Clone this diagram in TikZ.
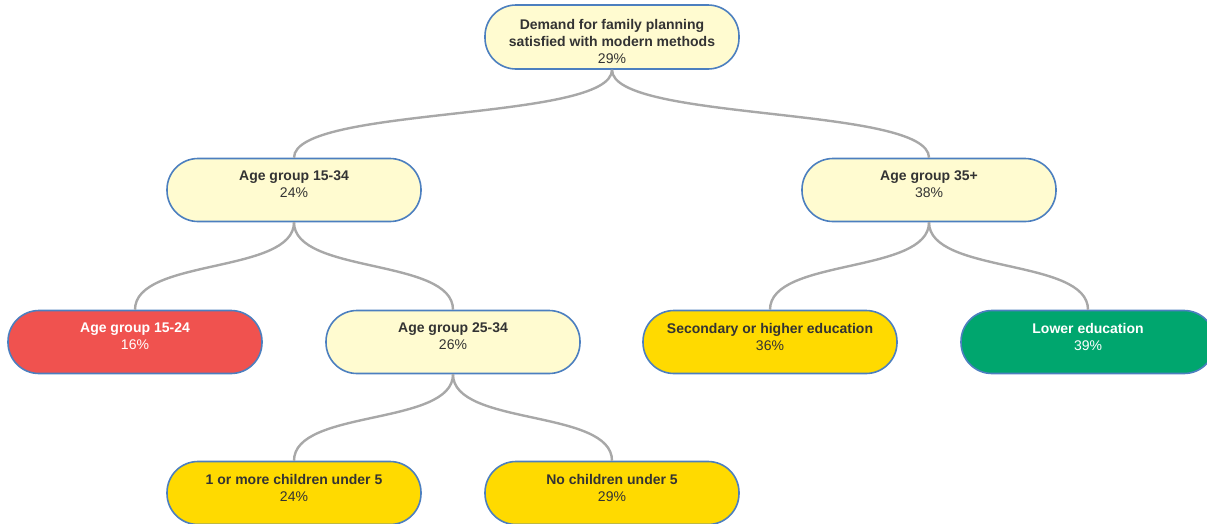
\documentclass[tikz,border=0pt]{standalone}
\usepackage{fontspec}
\setmainfont{Liberation Sans}
\usepackage{tikz}

\definecolor{rim}{HTML}{4C7FBF}
\definecolor{pale}{HTML}{FFFBD0}
\definecolor{low}{HTML}{F0524F}
\definecolor{high}{HTML}{00A66E}
\definecolor{mid}{HTML}{FFDA00}
\definecolor{wire}{HTML}{A8A8A8}
\definecolor{ink}{HTML}{333333}

\begin{document}
\begin{tikzpicture}[x=1pt,y=-1pt]
    \tikzset{vertex/.style = {shape=rectangle,draw=rim,line width=1.6pt,rounded corners=31pt,
        minimum width=254pt,minimum height=63pt,align=center,text=ink,
        font=\fontsize{14}{17}\selectfont,text depth=11pt}}
    \tikzset{vertex2/.style = {vertex,inner ysep=0pt,text height=56pt,text depth=3pt,minimum height=64pt}}
    \tikzset{edge/.style = {draw=wire,line width=2.4pt,
        to path={.. controls +(0,52) and +(0,-52) .. (\tikztotarget)}}}

    \useasboundingbox (0,0) rectangle (1207,523);

    % vertices
    \node[vertex2,fill=pale] (root) at (612,37) {\textbf{Demand for family planning}\\\textbf{satisfied with modern methods}\\29\%};

    \node[vertex,fill=pale] (agey) at (294,190) {\textbf{Age group 15-34}\\24\%};
    \node[vertex,fill=pale] (ageo) at (929,190) {\textbf{Age group 35+}\\38\%};

    \node[vertex,fill=low,text=white] (age1524) at (135,342) {\textbf{Age group 15-24}\\16\%};
    \node[vertex,fill=pale] (age2534) at (453,342) {\textbf{Age group 25-34}\\26\%};
    \node[vertex,fill=mid] (eduhi) at (770,342) {\textbf{Secondary or higher education}\\36\%};
    \node[vertex,fill=high,text=white] (edulo) at (1088,342) {\textbf{Lower education}\\39\%};

    \node[vertex,fill=mid] (kids) at (294,493) {\textbf{1 or more children under 5}\\24\%};
    \node[vertex,fill=mid] (nokids) at (612,493) {\textbf{No children under 5}\\29\%};

    %edges
    \draw[edge] (root.south) to (agey.north);
    \draw[edge] (root.south) to (ageo.north);
    \draw[edge] (agey.south) to (age1524.north);
    \draw[edge] (agey.south) to (age2534.north);
    \draw[edge] (ageo.south) to (eduhi.north);
    \draw[edge] (ageo.south) to (edulo.north);
    \draw[edge] (age2534.south) to (kids.north);
    \draw[edge] (age2534.south) to (nokids.north);
\end{tikzpicture}
\end{document}
